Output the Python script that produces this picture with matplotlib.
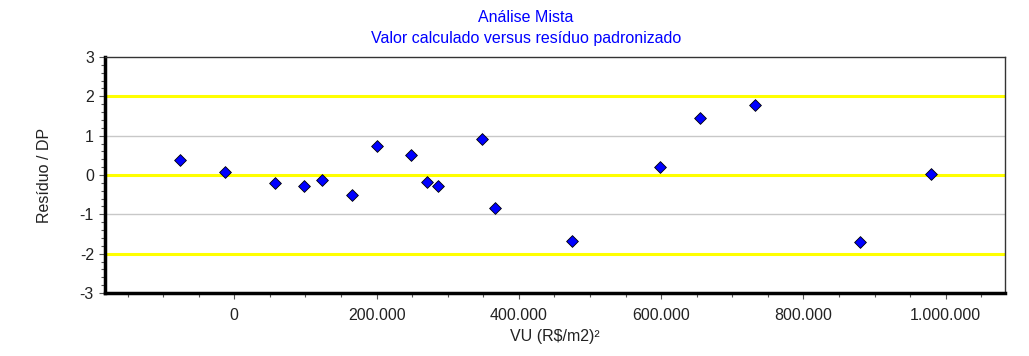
import matplotlib
matplotlib.use("Agg")
import matplotlib.pyplot as plt
from matplotlib.ticker import MultipleLocator, FuncFormatter

plt.rcParams['font.family'] = ['Liberation Sans', 'DejaVu Sans']
plt.rcParams['axes.unicode_minus'] = False

# valor calculado (VU) e residuo padronizado
vu = [-76300, -13500, 57500, 98500, 123300, 165400, 200600, 248400, 271400,
      286300, 347700, 367000, 474600, 598800, 654100, 732300, 880000, 978800]
residuo = [0.39, 0.08, -0.21, -0.29, -0.13, -0.51, 0.73, 0.51, -0.19,
           -0.29, 0.92, -0.85, -1.67, 0.21, 1.45, 1.78, -1.71, 0.03]

linhas_amarelas = [-2, 0, 2]
linhas_cinza = [-1, 1]


def fmt_milhar(v, pos):
    s = "{:,.0f}".format(v).replace(",", ".")
    return s


fig = plt.figure(figsize=(10.29, 3.56), dpi=100)
ax = fig.add_axes([105 / 1029, 1 - 293 / 356, 900 / 1029, 236 / 356])

for y in linhas_cinza:
    ax.axhline(y, color="#c8c8c8", lw=1, zorder=1)
for y in linhas_amarelas:
    ax.axhline(y, color="#ffff00", lw=2.2, zorder=1)

ax.scatter(vu, residuo, marker="D", s=36, color="#0000ff",
           edgecolors="black", linewidths=0.6, zorder=3)

ax.set_xlim(-181700, 1083200)
ax.set_ylim(-3, 3)
ax.xaxis.set_major_locator(MultipleLocator(200000))
ax.xaxis.set_minor_locator(MultipleLocator(50000))
ax.yaxis.set_major_locator(MultipleLocator(1))
ax.yaxis.set_minor_locator(MultipleLocator(0.2))
ax.xaxis.set_major_formatter(FuncFormatter(fmt_milhar))

ax.tick_params(axis="both", which="major", direction="out", length=4,
               width=0.8, color="#555555", labelsize=11.5,
               labelcolor="#222222")
ax.tick_params(axis="x", which="major", pad=7)
ax.tick_params(axis="y", which="major", pad=4)
ax.tick_params(axis="both", which="minor", direction="out", length=3,
               width=0.8, color="#555555")

for s in ["top", "right"]:
    ax.spines[s].set_linewidth(1)
    ax.spines[s].set_color("#333333")
for s in ["left", "bottom"]:
    ax.spines[s].set_linewidth(2.5)
    ax.spines[s].set_color("black")

ax.set_xlabel("VU (R$/m2)²", fontsize=11.5, labelpad=4, color="#222222")
ax.set_ylabel("Resíduo / DP", fontsize=11.5, labelpad=20, color="#222222")

fig.text(526 / 1029, 1 - 17 / 356, "Análise Mista", color="#0000ff",
         fontsize=11.5, ha="center", va="center")
fig.text(526 / 1029, 1 - 38 / 356, "Valor calculado versus resíduo padronizado",
         color="#0000ff", fontsize=11.5, ha="center", va="center")

fig.savefig("out.png", dpi=100)
